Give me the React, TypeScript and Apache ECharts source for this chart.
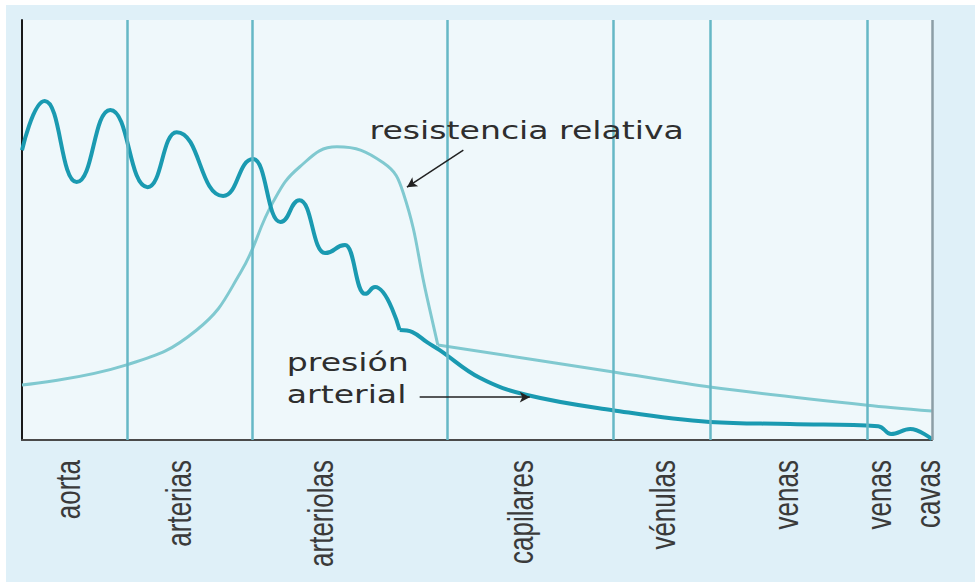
import React, { useEffect, useRef } from "react";
import * as echarts from "echarts";

// Position along the circulation (0 = aorta start, 100 = venas cavas end)
// Pulsatile part of the pressure curve: its successive peaks and troughs
const pulseX = [0, 2.5, 6.0, 9.7, 13.8, 17.0, 22.1, 25.4, 28.4, 30.5, 33.3, 35.5, 37.7, 38.8, 41.5];
const pulseY = [69.0, 80.7, 61.4, 78.6, 60.2, 73.3, 58.1, 66.9, 51.9, 57.1, 44.5, 46.4, 34.8, 36.4, 26.2];
// Smooth decay of the pressure after the arterioles
const decayX = [41.5, 42.9, 44.5, 45.9, 50.3, 55.5, 64.9, 75.6, 84.4, 94.1, 95.5, 97.6, 100];
const decayY = [26.2, 25.7, 23.3, 21.4, 14.8, 10.7, 7.1, 4.3, 3.8, 3.3, 1.4, 2.6, 0.2];

const resistX = [0, 11.5, 19.2, 24.0, 27.6, 30.5, 34.6, 39.7, 41.9, 44.5, 45.7];
const resistY = [13.1, 17.9, 26.2, 39.8, 56.7, 65.0, 69.8, 66.0, 58.8, 34.0, 22.6];
const resistTailX = [45.7, 65.0, 75.6, 92.9, 100];
const resistTailY = [22.6, 16.2, 12.6, 8.3, 6.9];

// Section boundaries
const boundaries = [11.54, 25.27, 46.7, 65.0, 75.6, 92.9];
const rightEdge = 100;

// Section labels (rotated, under the axis)
const sectionLabels = ["aorta", "arterias", "arteriolas", "capilares", "vénulas", "venas", "venas", "cavas"];
const sectionLabelX = [5.0, 17.3, 32.8, 54.8, 70.4, 83.9, 94.2, 99.6];

// Annotations
const annotationTexts = ["resistencia relativa", "presión", "arterial"];
const annotationX = [38.2, 29.1, 29.1];
const annotationY = [73.6, 18.3, 10.7];
const arrowFrom = [[48.5, 69.0], [43.7, 10.2]];
const arrowTo = [[42.3, 60.2], [55.8, 10.2]];

const zip = (xs: number[], ys: number[]) => xs.map((x, i) => [x, ys[i]]);

const PRESSURE_COLOR = "#1a9ab1";
const RESIST_COLOR = "#80c9d0";

export default function App() {
  const ref = useRef<HTMLDivElement>(null);
  useEffect(() => {
    document.body.style.margin = "0";
    const chart = echarts.init(ref.current!, null, { renderer: "svg" });
    const option: any = {
      animation: false,
      backgroundColor: "#dff0f8",
      grid: {
        left: 22,
        top: 20,
        width: 910,
        height: 420,
        show: true,
        backgroundColor: "#eff8fb",
        borderWidth: 0,
      },
      xAxis: {
        type: "value",
        min: 0,
        max: 100,
        axisLine: { show: true, lineStyle: { color: "#4a4a4a", width: 2 } },
        axisTick: { show: false },
        axisLabel: { show: false },
        splitLine: { show: false },
      },
      yAxis: {
        type: "value",
        min: 0,
        max: 100,
        axisLine: { show: true, onZero: false, lineStyle: { color: "#1a1a1a", width: 2 } },
        axisTick: { show: false },
        axisLabel: { show: false },
        splitLine: { show: false },
      },
      series: [
        {
          name: "límites",
          type: "line",
          data: [[0, 0]],
          symbol: "none",
          lineStyle: { opacity: 0 },
          z: 1,
          silent: true,
          markLine: {
            silent: true,
            symbol: "none",
            label: { show: false },
            data: [
              ...boundaries.map((v) => ({ xAxis: v, lineStyle: { color: "#66b8c6", width: 2.5, type: "solid" } })),
              { xAxis: rightEdge, lineStyle: { color: "#8c9ea6", width: 2.5, type: "solid" } },
            ],
          },
        },
        {
          name: "resistencia relativa",
          type: "line",
          data: zip(resistX, resistY),
          smooth: 0.45,
          symbol: "none",
          lineStyle: { color: RESIST_COLOR, width: 3 },
          z: 3,
        },
        {
          name: "resistencia relativa (tramo venoso)",
          type: "line",
          data: zip(resistTailX, resistTailY),
          smooth: 0.3,
          symbol: "none",
          lineStyle: { color: RESIST_COLOR, width: 3 },
          z: 3,
        },
        {
          name: "presión arterial",
          type: "line",
          data: zip(pulseX, pulseY),
          smooth: 0.5,
          smoothMonotone: "x",
          symbol: "none",
          lineStyle: { color: PRESSURE_COLOR, width: 4 },
          z: 4,
        },
        {
          name: "presión arterial (descenso)",
          type: "line",
          data: zip(decayX, decayY),
          smooth: 0.4,
          symbol: "none",
          lineStyle: { color: PRESSURE_COLOR, width: 4 },
          z: 4,
        },
        {
          name: "flechas",
          type: "line",
          data: [],
          symbol: "none",
          z: 5,
          markLine: {
            silent: true,
            symbol: ["none", "arrow"],
            symbolSize: [8, 10],
            label: { show: false },
            lineStyle: { color: "#222", width: 1.5, type: "solid" },
            data: arrowFrom.map((f, i) => [{ coord: f }, { coord: arrowTo[i] }]),
          },
        },
      ],
    };
    chart.setOption(option);

    const axisY = chart.convertToPixel({ yAxisIndex: 0 }, 0) as number;
    const labelEls = sectionLabels.map((t, i) => {
      const px = chart.convertToPixel({ xAxisIndex: 0 }, sectionLabelX[i]) as number;
      return {
        type: "text",
        x: px,
        y: axisY + 20,
        rotation: Math.PI / 2,
        scaleY: 1.38,
        style: {
          text: t,
          fill: "#3a3a3a",
          font: "26px 'Liberation Sans', Arial, sans-serif",
          align: "right",
          verticalAlign: "middle",
        },
        z: 10,
      };
    });
    const annEls = annotationTexts.map((t, i) => {
      const p = chart.convertToPixel({ gridIndex: 0 }, [annotationX[i], annotationY[i]]) as number[];
      return {
        type: "text",
        x: p[0],
        y: p[1],
        scaleX: 1.38,
        style: {
          text: t,
          fill: "#2e2e2e",
          font: "24px 'DejaVu Sans', sans-serif",
          align: "left",
          verticalAlign: "middle",
        },
        z: 10,
      };
    });
    chart.setOption({
      graphic: [
        { type: "rect", shape: { x: 0, y: 0, width: 975, height: 5 }, style: { fill: "#ffffff" }, z: 20 },
        { type: "rect", shape: { x: 0, y: 0, width: 6, height: 582 }, style: { fill: "#ffffff" }, z: 20 },
        ...labelEls,
        ...annEls,
      ],
    });
    return () => chart.dispose();
  }, []);
  return <div ref={ref} style={{ width: 975, height: 582 }} />;
}
